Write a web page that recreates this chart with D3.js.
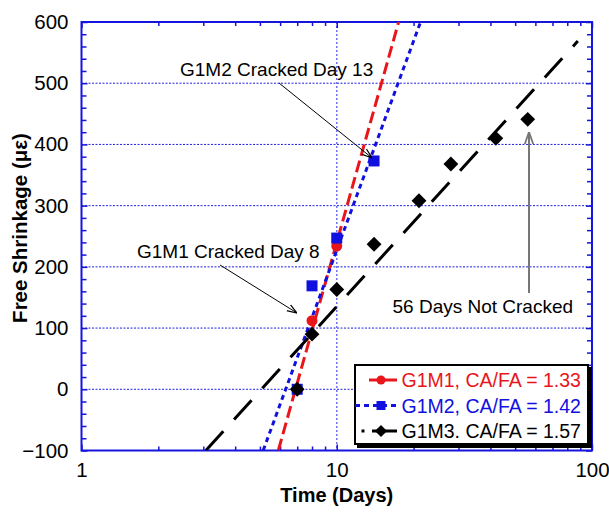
<!DOCTYPE html>
<html>
<head>
<meta charset="utf-8">
<script src="https://cdn.jsdelivr.net/npm/d3@7/dist/d3.min.js"></script>
<style>
  body { margin: 0; background: #fff; }
  text { font-family: "Liberation Sans", Arial, sans-serif; }
</style>
</head>
<body>
<svg id="chart" width="609" height="517"></svg>
<script>
// Measured free shrinkage (microstrain) by age in days
const days = [7, 8, 10, 14, 21, 28, 42, 56];
const g1m1 = [0, 112, 234];                          // days 7, 8, 10
const g1m2 = [0, 169, 247, 373];                     // days 7, 8, 10, 14
const g1m3 = [0, 90, 163, 237, 308, 368, 410, 441];  // days 7 … 56
const seriesNames = ["G1M1, CA/FA = 1.33", "G1M2, CA/FA = 1.42", "G1M3. CA/FA = 1.57"];
const xTickValues = [1, 10, 100];
const yTickValues = [-100, 0, 100, 200, 300, 400, 500, 600];
const fitEndDay = [100, 100, 88];

const colors = ["#e8161b", "#1010e0", "#000000"];
const dashes = ["12,5", "5,4", "26,16"];
const markers = ["circle", "square", "diamond"];

const svg = d3.select("#chart");
const L = 81.5, R = 592, T = 22, B = 450.5;
const x = d3.scaleLog().domain([1, 100]).range([L, R]);
const y = d3.scaleLinear().domain([-100, 600]).range([B, T]);

const series = [g1m1, g1m2, g1m3].map((vals, i) => ({
  name: seriesNames[i],
  pts: vals.map((v, j) => ({ d: days[j], v })),
  color: colors[i], dash: dashes[i], marker: markers[i], end: fitEndDay[i]
}));

// least-squares fit of shrinkage against log10(age)
function logFit(pts) {
  const lx = pts.map(p => Math.log10(p.d));
  const mx = d3.mean(lx), my = d3.mean(pts, p => p.v);
  let sxy = 0, sxx = 0;
  pts.forEach((p, k) => { sxy += (lx[k] - mx) * (p.v - my); sxx += (lx[k] - mx) ** 2; });
  const b = sxy / sxx;
  return { a: my - b * mx, b };
}

svg.append("defs").append("clipPath").attr("id", "plotClip")
  .append("rect").attr("x", L).attr("y", T).attr("width", R - L).attr("height", B - T);

// gridlines
const grid = svg.append("g");
grid.selectAll("line.h").data(yTickValues.filter(v => v > -100 && v < 600)).join("line")
  .attr("x1", L).attr("x2", R).attr("y1", d => y(d)).attr("y2", d => y(d))
  .attr("stroke", "#2020e0").attr("stroke-width", 1).attr("stroke-dasharray", "2,1.5");
grid.selectAll("line.v").data([10]).join("line")
  .attr("x1", d => x(d)).attr("x2", d => x(d)).attr("y1", T).attr("y2", B)
  .attr("stroke", "#7070f0").attr("stroke-width", 1.5).attr("stroke-dasharray", "2,2");

// axes with inward ticks on all four sides
const minorX = [2,3,4,5,6,7,8,9,20,30,40,50,60,70,80,90];
const minorY = d3.range(-100, 601, 20).filter(v => v % 100 !== 0);
const axisColor = "#1515dd";

function styleAxis(g) {
  g.select(".domain").remove();
  g.selectAll(".tick line").attr("stroke", axisColor).attr("stroke-width", 1.5);
  g.selectAll(".tick text").attr("fill", "#000").attr("font-size", 20.5)
    .attr("font-family", "'Liberation Sans', Arial, sans-serif");
}
svg.append("g").attr("transform", `translate(0,${B})`)
  .call(d3.axisBottom(x).tickValues(xTickValues).tickFormat(d3.format("d")).tickSize(-6).tickPadding(12))
  .call(styleAxis);
svg.append("g").attr("transform", `translate(0,${B})`)
  .call(d3.axisBottom(x).tickValues(minorX).tickFormat("").tickSize(-4)).call(styleAxis);
svg.append("g").attr("transform", `translate(0,${T})`)
  .call(d3.axisTop(x).tickValues(xTickValues).tickFormat("").tickSize(-6)).call(styleAxis);
svg.append("g").attr("transform", `translate(0,${T})`)
  .call(d3.axisTop(x).tickValues(minorX).tickFormat("").tickSize(-4)).call(styleAxis);
svg.append("g").attr("transform", `translate(${L},0)`)
  .call(d3.axisLeft(y).tickValues(yTickValues).tickFormat(d3.format("d")).tickSize(-6).tickPadding(13))
  .call(styleAxis);
svg.append("g").attr("transform", `translate(${L},0)`)
  .call(d3.axisLeft(y).tickValues(minorY).tickFormat("").tickSize(-5)).call(styleAxis);
svg.append("g").attr("transform", `translate(${R},0)`)
  .call(d3.axisRight(y).tickValues(yTickValues).tickFormat("").tickSize(-6)).call(styleAxis);
svg.append("g").attr("transform", `translate(${R},0)`)
  .call(d3.axisRight(y).tickValues(minorY).tickFormat("").tickSize(-5)).call(styleAxis);

svg.append("rect").attr("x", L).attr("y", T).attr("width", R - L).attr("height", B - T)
  .attr("fill", "none").attr("stroke", axisColor).attr("stroke-width", 2);

// axis titles
svg.append("text").attr("x", (L + R) / 2).attr("y", 502).attr("text-anchor", "middle")
  .attr("font-size", 20).attr("font-weight", "bold").text("Time (Days)");
svg.append("text").attr("transform", "translate(27,228) rotate(-90)").attr("text-anchor", "middle")
  .attr("font-size", 20.5).attr("font-weight", "bold").text("Free Shrinkage (\u03bc\u03b5)");

// marker drawing
function drawMarker(sel, type, color, s) {
  if (type === "circle") {
    sel.append("circle").attr("r", s).attr("fill", color);
  } else if (type === "square") {
    sel.append("rect").attr("x", -s).attr("y", -s).attr("width", 2 * s).attr("height", 2 * s).attr("fill", color);
  } else {
    const h = s * 1.35;
    sel.append("path").attr("d", `M0,${-h}L${h},0L0,${h}L${-h},0Z`).attr("fill", color);
  }
}

// fitted trend lines and measured points
const plot = svg.append("g").attr("clip-path", "url(#plotClip)");
series.forEach(s => {
  const f = logFit(s.pts);
  const startDay = Math.pow(10, (-100 - f.a) / f.b);
  const line = [startDay, s.end].map(d => ({ d, v: f.a + f.b * Math.log10(d) }));
  plot.append("path")
    .attr("d", d3.line().x(p => x(p.d)).y(p => y(p.v))(line))
    .attr("fill", "none").attr("stroke", s.color).attr("stroke-width", 3)
    .attr("stroke-dasharray", s.dash);
});
series.forEach(s => {
  s.pts.forEach(p => {
    const g = svg.append("g").attr("transform", `translate(${x(p.d)},${y(p.v)})`);
    drawMarker(g, s.marker, s.color, 5.5);
  });
});

// annotations
svg.append("defs").append("marker").attr("id", "openArrow")
  .attr("viewBox", "0 0 10 10").attr("refX", 10).attr("refY", 5)
  .attr("markerWidth", 10).attr("markerHeight", 10).attr("markerUnits", "userSpaceOnUse")
  .attr("orient", "auto")
  .append("path").attr("d", "M0,1.5L10,5L0,8.5").attr("fill", "none").attr("stroke", "#000").attr("stroke-width", 1.2);
svg.select("defs").append("marker").attr("id", "grayArrow")
  .attr("viewBox", "0 0 10 10").attr("refX", 10).attr("refY", 5)
  .attr("markerWidth", 12).attr("markerHeight", 12).attr("markerUnits", "userSpaceOnUse")
  .attr("orient", "auto")
  .append("path").attr("d", "M0,1.5L10,5L0,8.5").attr("fill", "none").attr("stroke", "#777").attr("stroke-width", 1.5);

svg.append("text").attr("x", 180).attr("y", 76).attr("font-size", 19).text("G1M2 Cracked Day 13");
svg.append("line").attr("x1", 279).attr("y1", 83).attr("x2", x(14) - 2).attr("y2", y(373) - 3)
  .attr("stroke", "#000").attr("stroke-width", 1).attr("marker-end", "url(#openArrow)");

svg.append("text").attr("x", 137).attr("y", 258).attr("font-size", 19).text("G1M1 Cracked Day 8");
svg.append("line").attr("x1", 220).attr("y1", 265).attr("x2", 297).attr("y2", 313)
  .attr("stroke", "#000").attr("stroke-width", 1).attr("marker-end", "url(#openArrow)");

svg.append("text").attr("x", 392.5).attr("y", 313).attr("font-size", 19).text("56 Days Not Cracked");
svg.append("line").attr("x1", 529).attr("y1", 293).attr("x2", 529).attr("y2", 132)
  .attr("stroke", "#777").attr("stroke-width", 2).attr("marker-end", "url(#grayArrow)");

// legend
const lg = svg.append("g");
lg.append("rect").attr("x", 357).attr("y", 367).attr("width", 235).attr("height", 81).attr("fill", "#000");
lg.append("rect").attr("x", 355).attr("y", 365).attr("width", 233).attr("height", 79)
  .attr("fill", "#fff").attr("stroke", "#000").attr("stroke-width", 2);
const rowY = [380, 405.5, 431];
series.forEach((s, i) => {
  const cy = rowY[i];
  if (i === 0) {
    lg.append("line").attr("x1", 369).attr("x2", 397).attr("y1", cy).attr("y2", cy)
      .attr("stroke", s.color).attr("stroke-width", 3);
  } else if (i === 1) {
    lg.append("line").attr("x1", 355).attr("x2", 398).attr("y1", cy).attr("y2", cy)
      .attr("stroke", s.color).attr("stroke-width", 3).attr("stroke-dasharray", "5,4");
  } else {
    lg.append("rect").attr("x", 361.5).attr("y", cy - 1.5).attr("width", 3).attr("height", 3).attr("fill", "#000");
    lg.append("line").attr("x1", 372).attr("x2", 397).attr("y1", cy).attr("y2", cy)
      .attr("stroke", s.color).attr("stroke-width", 3);
  }
  const g = lg.append("g").attr("transform", `translate(381,${cy})`);
  drawMarker(g, s.marker, s.color, 4.5);
  lg.append("text").attr("x", 401.5).attr("y", cy + 7).attr("font-size", 19.5)
    .attr("fill", s.color).text(s.name);
});
</script>
</body>
</html>
